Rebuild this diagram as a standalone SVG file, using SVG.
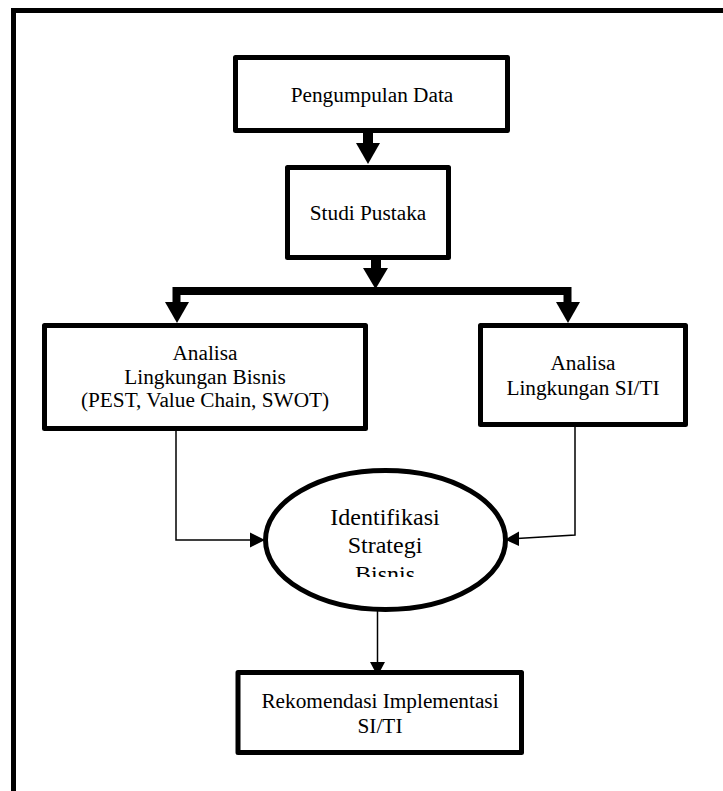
<svg xmlns="http://www.w3.org/2000/svg" width="723" height="791" viewBox="0 0 723 791">
<style>
.box{fill:#fff;stroke:#000;stroke-width:5;stroke-linejoin:round}
.t{font-family:"Liberation Serif","Times New Roman",serif;font-size:21.3px;fill:#000;text-anchor:middle}
.te{font-family:"Liberation Serif","Times New Roman",serif;font-size:24px;fill:#000;text-anchor:middle}
.thin{fill:none;stroke:#000;stroke-width:1.5}
.thick{fill:none;stroke:#000;stroke-width:8;stroke-linejoin:miter}
.head{fill:#000}
</style>
<defs>
<clipPath id="ellClip"><rect x="250" y="460" width="270" height="117"/></clipPath>
</defs>
<rect width="723" height="791" fill="#fff"/>
<path d="M13.5 791 V10.5 H723" fill="none" stroke="#000" stroke-width="5"/>

<g id="connectors">
<!-- Pengumpulan -> Studi -->
<rect x="363" y="132" width="10" height="12" class="head"/>
<polygon points="356,143 380,143 368,164" class="head"/>
<!-- Studi -> bar -->
<rect x="371" y="258" width="10" height="11" class="head"/>
<polygon points="363,268 388,268 375.5,289" class="head"/>
<path d="M176.5 302 V291 H567.5 V302" class="thick"/>
<polygon points="165,302 189,302 177,323" class="head"/>
<polygon points="556,302 580,302 568,323" class="head"/>
<!-- left box -> ellipse -->
<path d="M176 418 V540 H252" class="thin"/>
<polygon points="250,532.5 265,540 250,547.5" class="head"/>
<!-- right box -> ellipse -->
<path d="M575 407 V535 L517 538.5" class="thin"/>
<polygon points="519,531.5 505,539.5 519,546" class="head"/>
<!-- ellipse -> rekomendasi -->
<path d="M377.5 602 V664" class="thin"/>
<polygon points="370,662 385,662 377.5,676" class="head"/>
</g>

<g id="node-pengumpulan">
<rect x="235.5" y="57.5" width="272" height="73" class="box"/>
<text x="372" y="102" class="t">Pengumpulan Data</text>
</g>

<g id="node-studi">
<rect x="287.5" y="167.5" width="161" height="90" class="box"/>
<text x="368" y="220" class="t">Studi Pustaka</text>
</g>

<g id="node-bisnis">
<rect x="44.5" y="325.5" width="321" height="103" class="box"/>
<text class="t"><tspan x="205" y="360">Analisa</tspan><tspan x="205" y="383.5">Lingkungan Bisnis</tspan><tspan x="205" y="407">(PEST, Value Chain, SWOT)</tspan></text>
</g>

<g id="node-siti">
<rect x="480.5" y="325.5" width="205" height="99" class="box"/>
<text class="t"><tspan x="583" y="370">Analisa</tspan><tspan x="583" y="395">Lingkungan SI/TI</tspan></text>
</g>

<g id="node-identifikasi">
<ellipse cx="385.5" cy="540" rx="120" ry="69.5" fill="#fff" stroke="#000" stroke-width="5"/>
<text class="te" clip-path="url(#ellClip)"><tspan x="385" y="525">Identifikasi</tspan><tspan x="385" y="553">Strategi</tspan><tspan x="385" y="582">Bisnis</tspan></text>
</g>

<g id="node-rekomendasi">
<rect x="238" y="672.5" width="283.5" height="80" class="box"/>
<text class="t"><tspan x="380" y="708">Rekomendasi Implementasi</tspan><tspan x="380" y="733">SI/TI</tspan></text>
</g>
</svg>
